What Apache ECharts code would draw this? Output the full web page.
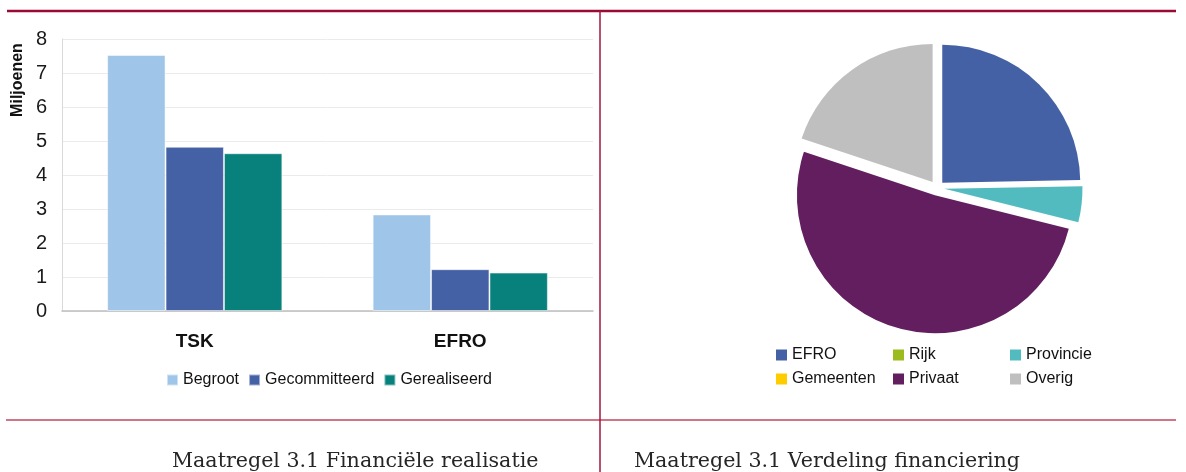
<!DOCTYPE html>
<html>
<head>
<meta charset="utf-8">
<script src="https://cdn.jsdelivr.net/npm/echarts@6/dist/echarts.min.js"></script>
<style>
  html, body { margin: 0; padding: 0; background: #fff; }
  #chart { width: 1186px; height: 472px; }
</style>
</head>
<body>
<div id="chart"></div>
<script>
// staafdiagram: financiele realisatie (miljoenen)
const categories = ["TSK", "EFRO"];
const begroot = [7.53, 2.84];
const gecommitteerd = [4.83, 1.23];
const gerealiseerd = [4.64, 1.13];
const yTicks = [0, 1, 2, 3, 4, 5, 6, 7, 8];

// taartdiagram: verdeling financiering (aandeel in %)
const pieNames = ["EFRO", "Rijk", "Provincie", "Gemeenten", "Privaat", "Overig"];
const pieValues = [24.7, 0, 4.2, 0, 51.2, 19.9];
const pieColors = ["#4561a5", "#9bbb1f", "#52bbbf", "#ffcc00", "#631e60", "#bfbfbf"];

const barColors = ["#9fc5e8", "#4561a5", "#08807c"];
const red = "#9b0a35";

let mychart = echarts.init(document.getElementById("chart"));

const barSeries = [
  ["Begroot", begroot],
  ["Gecommitteerd", gecommitteerd],
  ["Gerealiseerd", gerealiseerd],
].map(([name, values], i) => ({
  name: name,
  type: "bar",
  barGap: "0%",
  barCategoryGap: "34%",
  itemStyle: { color: barColors[i], borderColor: "rgba(255,255,255,0.5)", borderWidth: 1 },
  data: values,
}));

const pieLegend = (left, names) => ({
  orient: "vertical",
  left: left,
  top: 342,
  itemWidth: 11,
  itemHeight: 11,
  itemGap: 8,
  icon: "rect",
  textStyle: { fontFamily: "Liberation Sans", fontSize: 16, color: "#111" },
  data: names,
});

mychart.setOption({
  animation: false,
  textStyle: { fontFamily: "Liberation Sans" },
  grid: { left: 62, top: 39, width: 531, height: 272 },
  xAxis: {
    type: "category",
    data: categories,
    axisTick: { show: false },
    axisLine: { lineStyle: { color: "#bfbfbf", width: 1.5 } },
    axisLabel: { margin: 21, fontSize: 19, fontWeight: "bold", color: "#111" },
  },
  yAxis: {
    type: "value",
    min: yTicks[0],
    max: yTicks[yTicks.length - 1],
    interval: 1,
    axisLine: { show: true, lineStyle: { color: "#d9d9d9" } },
    axisTick: { show: false },
    splitLine: { lineStyle: { color: "#ebebeb" } },
    axisLabel: { margin: 15, fontSize: 20, color: "#1a1a1a" },
  },
  legend: [
    {
      left: 161,
      top: 367,
      itemWidth: 11,
      itemHeight: 11,
      itemGap: 9,
      icon: "rect",
      textStyle: { fontFamily: "Liberation Sans", fontSize: 16, color: "#111" },
      data: ["Begroot", "Gecommitteerd", "Gerealiseerd"],
    },
    pieLegend(771, ["EFRO", "Gemeenten"]),
    pieLegend(888, ["Rijk", "Privaat"]),
    pieLegend(1005, ["Provincie", "Overig"]),
  ],
  series: barSeries.concat([
    {
      name: "Verdeling",
      type: "pie",
      center: [937, 188],
      radius: 138,
      startAngle: 90,
      clockwise: true,
      selectedMode: "multiple",
      selectedOffset: 7.5,
      label: { show: false },
      labelLine: { show: false },
      emphasis: { disabled: true },
      data: pieNames.map((n, i) => ({
        name: n,
        value: pieValues[i],
        selected: true,
        itemStyle: { color: pieColors[i] },
      })),
    },
  ]),
  graphic: [
    // kaderlijnen
    { type: "line", shape: { x1: 7, y1: 11, x2: 1176, y2: 11 }, style: { stroke: red, lineWidth: 2.5 } },
    { type: "line", shape: { x1: 6, y1: 420, x2: 1176, y2: 420 }, style: { stroke: "#c4445f", lineWidth: 1.5 } },
    { type: "line", shape: { x1: 600, y1: 11, x2: 600, y2: 472 }, style: { stroke: "#a3163f", lineWidth: 1.5 } },
    // as-titel
    {
      type: "text",
      x: 18,
      y: 80,
      rotation: Math.PI / 2,
      style: {
        text: "Miljoenen",
        font: "bold 16px 'Liberation Sans'",
        fill: "#111",
        textAlign: "center",
        textVerticalAlign: "middle",
      },
    },
    // onderschriften
    {
      type: "text",
      x: 172,
      y: 462,
      style: { text: "Maatregel 3.1 Financiële realisatie", font: "20.6px 'DejaVu Serif'", fill: "#262626", textVerticalAlign: "middle" },
    },
    {
      type: "text",
      x: 634,
      y: 462,
      style: { text: "Maatregel 3.1 Verdeling financiering", font: "20.6px 'DejaVu Serif'", fill: "#262626", textVerticalAlign: "middle" },
    },
  ],
});
</script>
</body>
</html>
